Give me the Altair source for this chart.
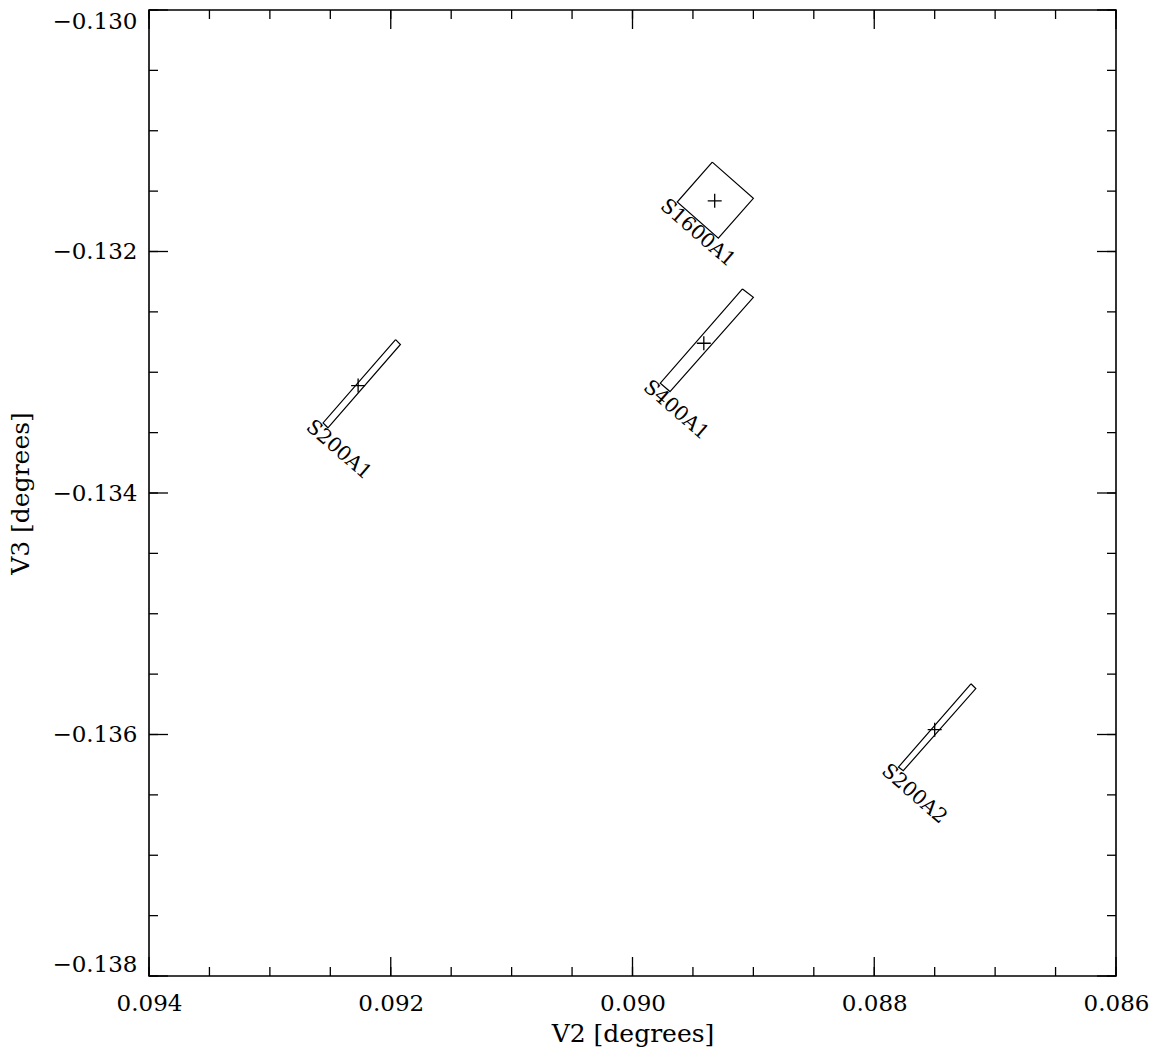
import altair as alt
import pandas as pd
import numpy as np

# ---- data ----
slit_names = ["S200A1", "S1600A1", "S400A1", "S200A2"]
corner_v2 = [
    [0.09196, 0.09192, 0.09252, 0.09256],
    [0.08934, 0.08900, 0.08929, 0.08963],
    [0.08909, 0.08900, 0.08969, 0.08977],
    [0.08720, 0.08716, 0.08776, 0.08780],
]
corner_v3 = [
    [-0.13273, -0.13277, -0.13346, -0.13342],
    [-0.13126, -0.13156, -0.13189, -0.13159],
    [-0.13231, -0.13238, -0.13316, -0.13309],
    [-0.13558, -0.13562, -0.13630, -0.13627],
]
center_v2 = [0.09227, 0.08932, 0.08941, 0.08750]
center_v3 = [-0.13311, -0.13158, -0.13276, -0.13596]

x_major = [0.094, 0.092, 0.090, 0.088, 0.086]
y_major = [-0.138, -0.136, -0.134, -0.132, -0.130]
x_minor = [round(v, 4) for v in np.arange(0.0860, 0.09401, 0.0005)]
y_minor = [round(v, 4) for v in np.arange(-0.1380, -0.12999, 0.0005)]

W, H = 967, 966
FONT = "DejaVu Serif"

# ---- tables ----
rows = []
for name, xs, ys in zip(slit_names, corner_v2, corner_v3):
    for i in range(5):
        rows.append({"slit": name, "idx": i, "v2": xs[i % 4], "v3": ys[i % 4]})
poly_df = pd.DataFrame(rows)
cross_df = pd.DataFrame({"slit": slit_names, "v2": center_v2, "v3": center_v3})
label_df = pd.DataFrame({"slit": slit_names,
                         "v2": [c[3] for c in corner_v2],
                         "v3": [c[3] for c in corner_v3]})

xscale = alt.Scale(domain=[0.086, 0.094], reverse=True, nice=False, zero=False)
yscale = alt.Scale(domain=[-0.138, -0.130], nice=False, zero=False)
xaxis = alt.Axis(values=x_major, format=".3f", title="V2 [degrees]", ticks=False,
                 tickSize=0, domain=False, grid=False, labelPadding=16,
                 labelFont=FONT, labelFontSize=23, labelColor="black",
                 titleFont=FONT, titleFontSize=25, titleFontWeight="normal",
                 titleColor="black", titlePadding=6, labelFlush=False)
yaxis = alt.Axis(values=y_major, format=".3f", title="V3 [degrees]", ticks=False,
                 tickSize=0, domain=False, grid=False, labelPadding=12,
                 labelFont=FONT, labelFontSize=23, labelColor="black",
                 titleFont=FONT, titleFontSize=25, titleFontWeight="normal",
                 titleColor="black", titlePadding=18, labelFlush=True)

X = alt.X("v2:Q", scale=xscale, axis=xaxis)
Y = alt.Y("v3:Q", scale=yscale, axis=yaxis)

polys = alt.Chart(poly_df).mark_line(color="black", strokeWidth=1.2).encode(
    x=X, y=Y, detail="slit:N", order="idx:Q")

crosses = alt.Chart(cross_df).mark_point(
    shape="M-1,0L1,0M0,-1L0,1", filled=False, color="black",
    strokeWidth=1.3, size=196, opacity=1).encode(x=X, y=Y)

labels = alt.Chart(label_df).mark_text(
    angle=41, align="left", baseline="top", font=FONT, fontSize=20,
    color="black", dx=-10, dy=0).encode(x=X, y=Y, text="slit:N")

layers = [polys, crosses, labels]

xmaj_df = pd.DataFrame({"v2": x_major})
xmin_df = pd.DataFrame({"v2": x_minor})
ymaj_df = pd.DataFrame({"v3": y_major})
ymin_df = pd.DataFrame({"v3": y_minor})

for df, L in [(xmaj_df, 19), (xmin_df, 9)]:
    layers.append(alt.Chart(df).mark_rule(color="black", strokeWidth=1.3).encode(
        x=X, y=alt.value(H), y2=alt.value(H - L)))
    layers.append(alt.Chart(df).mark_rule(color="black", strokeWidth=1.3).encode(
        x=X, y=alt.value(0), y2=alt.value(L)))
for df, L in [(ymaj_df, 19), (ymin_df, 9)]:
    layers.append(alt.Chart(df).mark_rule(color="black", strokeWidth=1.3).encode(
        y=Y, x=alt.value(0), x2=alt.value(L)))
    layers.append(alt.Chart(df).mark_rule(color="black", strokeWidth=1.3).encode(
        y=Y, x=alt.value(W), x2=alt.value(W - L)))

chart = alt.layer(*layers).properties(
    width=W, height=H,
    padding={"left": 149, "top": 10, "right": 42, "bottom": 74},
    autosize=alt.AutoSizeParams(type="none"),
    background="white",
).configure_view(stroke="black", strokeWidth=1.6)

chart.save("out.html", embed_options={"renderer": "svg", "actions": False})
